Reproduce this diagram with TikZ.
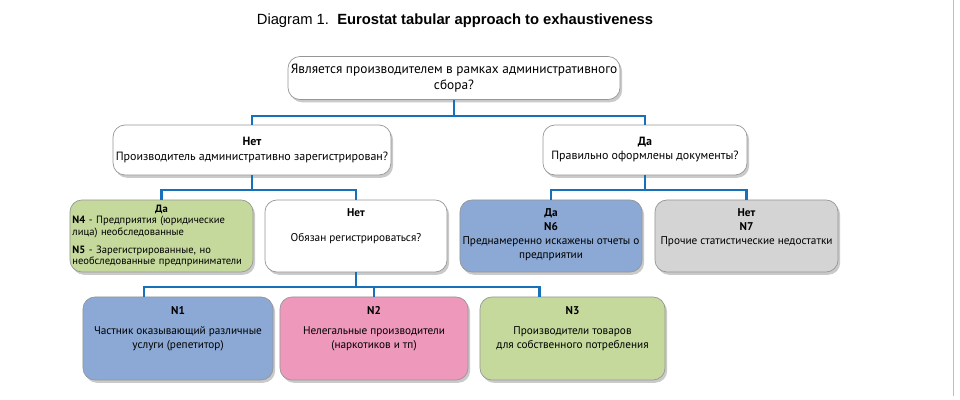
\documentclass[tikz,border=0pt]{standalone}
\usepackage{fontspec}
\setmainfont{PT Sans}
\newfontfamily\titlefont{Liberation Sans}
\usetikzlibrary{positioning,shadows}

\definecolor{connblue}{RGB}{22,112,186}
\definecolor{boxgreen}{RGB}{197,217,156}
\definecolor{boxblue}{RGB}{139,169,212}
\definecolor{boxpink}{RGB}{238,152,187}
\definecolor{boxgray}{RGB}{212,212,212}
\definecolor{boxline}{RGB}{150,150,150}

\begin{document}
\begin{tikzpicture}[x=0.025cm, y=-0.025cm,
box_style/.style={rectangle, rounded corners=0.3cm, draw=boxline, line width=0.5pt, fill=white, align=center, inner sep=2pt,
  drop shadow={shadow xshift=1.5pt, shadow yshift=-2pt, fill=black!35, opacity=0.6}},
text_style/.style={align=center, inner sep=0pt, font=\fontsize{8}{10}\selectfont},
conn_style/.style={draw=connblue, line width=2pt}]
\useasboundingbox (0,0) rectangle (960,400);

\node[font=\titlefont\fontsize{10.5}{12}\selectfont] (title) at (455,21) {Diagram 1.\ \ \textbf{Eurostat tabular approach to exhaustiveness}};

% first question
\node[box_style, minimum width=8.3cm, minimum height=1.075cm, font=\fontsize{9.5}{11.5}\selectfont] (top) at (454,78) {Является производителем в рамках административного\\сбора?};

% second level
\node[box_style, minimum width=6.75cm, minimum height=1.25cm, font=\fontsize{8.5}{10}\selectfont] (no1) at (252,150) {\textbf{Нет}\\Производитель административно зарегистрирован?};
\node[box_style, minimum width=5.1cm, minimum height=1.25cm, font=\fontsize{8.5}{10}\selectfont] (yes1) at (645,150) {\textbf{Да}\\Правильно оформлены документы?};

% third level
\node[box_style, fill=boxgreen, minimum width=4.575cm, minimum height=1.8cm, text width=4.45cm, inner sep=1pt, align=left, font=\fontsize{7.5}{8}\selectfont] (yes2) at (161.5,236) {\makebox[4.45cm]{\textbf{Да}}\\\textbf{N4} - Предприятия (юридические\\лица) необследованные\\[5pt]\textbf{N5} - Зарегистрированные, но\\необследованные предприниматели};
\node[box_style, minimum width=4.55cm, minimum height=1.8cm] (no2) at (356,236) {};
\node[text_style, below=0.22cm of no2.north] (no2t) {\textbf{Нет}\\[8pt]Обязан регистрироваться?};
\node[box_style, fill=boxblue, minimum width=4.55cm, minimum height=1.8cm] (n6) at (551,236) {};
\node[text_style, below=0.22cm of n6.north] (n6t) {\textbf{Да}\\\textbf{N6}\\Преднамеренно искажены отчеты о\\предприятии};
\node[box_style, fill=boxgray, minimum width=4.575cm, minimum height=1.8cm] (n7) at (746.5,236) {};
\node[text_style, below=0.22cm of n7.north] (n7t) {\textbf{Нет}\\\textbf{N7}\\Прочие статистические недостатки};

% fourth level
\node[box_style, fill=boxblue, minimum width=4.75cm, minimum height=2.075cm] (n1) at (178,338.5) {};
\node[text_style, below=0.25cm of n1.north] (n1t) {\textbf{N1}\\[4pt]Частник оказывающий различные\\услуги (репетитор)};
\node[box_style, fill=boxpink, minimum width=4.7cm, minimum height=2.075cm] (n2) at (374,338.5) {};
\node[text_style, below=0.25cm of n2.north] (n2t) {\textbf{N2}\\[4pt]Нелегальные производители\\(наркотиков и тп)};
\node[box_style, fill=boxgreen, minimum width=4.625cm, minimum height=2.075cm] (n3) at (572.5,338.5) {};
\node[text_style, below=0.25cm of n3.north] (n3t) {\textbf{N3}\\[4pt]Производители товаров\\для собственного потребления};

% connectors
\coordinate (j1) at (top.south |- 0,116);
\coordinate (j2) at (no1.south |- 0,190);
\coordinate (j3) at (yes1.south |- 0,190);
\coordinate (j4) at (no2.south |- 0,287);
\draw[conn_style] (top.south) -- (j1) -| (no1.north);
\draw[conn_style] (j1) -| (yes1.north);
\draw[conn_style] (no1.south) -- (j2) -| (yes2.north);
\draw[conn_style] (j2) -| (no2.north);
\draw[conn_style] (yes1.south) -- (j3) -| (n6.north);
\draw[conn_style] (j3) -| (n7.north);
\draw[conn_style] (no2.south) -- (j4) -| ([xshift=-0.85cm]n1.north);
\draw[conn_style] (j4) -| (n2.north);
\draw[conn_style] (j4) -| ([xshift=-0.825cm]n3.north);

\draw[black!25, line width=0.5pt] (953,0) -- (953,396);
\end{tikzpicture}
\end{document}
